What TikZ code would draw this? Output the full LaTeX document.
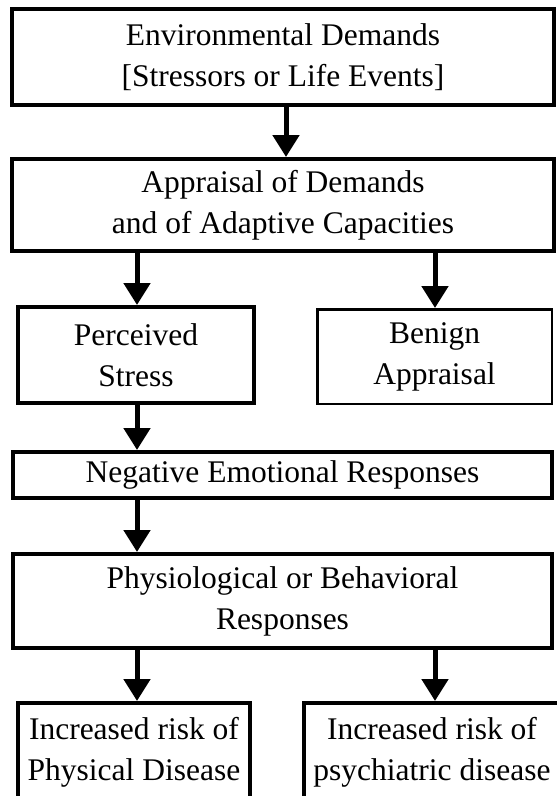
\documentclass[tikz,border=0pt]{standalone}
\usepackage{fontspec}
\setmainfont{Liberation Serif}
\usetikzlibrary{arrows.meta,calc}
\begin{document}
\begin{tikzpicture}[x=1pt,y=-1pt,
  box/.style={draw, line width=4pt, inner sep=0pt, align=center,
    font=\fontsize{31.5}{41}\selectfont},
  thinbox/.style={box, line width=2.5pt},
  arr/.style={line width=5pt, -{Triangle[width=26pt,length=22pt]}}]
\useasboundingbox (0,0) rectangle (557,796);
\node[box, minimum width=542pt, minimum height=96pt] (b1) at (283,57)
  {Environmental Demands\\{[Stressors or Life Events]}};
\node[box, minimum width=542pt, minimum height=92pt] (b2) at (283,205)
  {Appraisal of Demands\\and of Adaptive Capacities};
\node[box, minimum width=236pt, minimum height=96pt] (b3) at (136,355)
  {Perceived\\Stress};
\node[thinbox, minimum width=234.5pt, minimum height=94.5pt] (b4) at (434.5,356.5)
  {Benign\\Appraisal};
\node[box, minimum width=539pt, minimum height=46pt] (b5) at (282.5,475)
  {Negative Emotional Responses};
\node[box, minimum width=539pt, minimum height=94pt] (b6) at (282.5,601)
  {Physiological or Behavioral\\Responses};
\node[box, minimum width=232pt, minimum height=98pt] (b7) at (134,752)
  {Increased risk of\\Physical Disease};
\node[box, minimum width=256pt, minimum height=98pt] (b8) at (432,752)
  {Increased risk of\\psychiatric disease};
\draw[arr] ([xshift=3pt]b1.south) -- ([xshift=3pt]b2.north);
\draw[arr] (b2.south -| 137,0) -- (b3.north -| 137,0);
\draw[arr] (b2.south -| 435,0) -- (b4.north -| 435,0);
\draw[arr] (b3.south -| 137,0) -- (b5.north -| 137,0);
\draw[arr] (b5.south -| 137,0) -- (b6.north -| 137,0);
\draw[arr] (b6.south -| 137,0) -- (b7.north -| 137,0);
\draw[arr] (b6.south -| 435,0) -- (b8.north -| 435,0);
\end{tikzpicture}
\end{document}
